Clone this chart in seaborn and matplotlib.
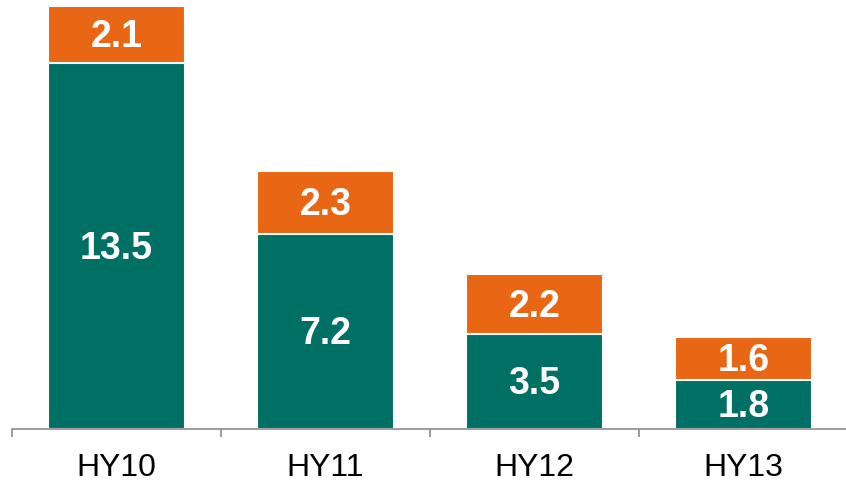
import matplotlib
matplotlib.use("Agg")
import matplotlib.pyplot as plt
import numpy as np
import pandas as pd
import seaborn as sns

# data
periods = ["HY10", "HY11", "HY12", "HY13"]
base_values = [13.5, 7.2, 3.5, 1.8]
top_values = [2.1, 2.3, 2.2, 1.6]

teal = "#006F64"
orange = "#E96614"

sns.set_theme(style="white")
plt.rcParams['font.family'] = ['Liberation Sans', 'DejaVu Sans']

df = pd.DataFrame({"period": periods, "base": base_values, "top": top_values})
df["total"] = df["base"] + df["top"]

fig = plt.figure(figsize=(8.46, 4.82), dpi=100)
ax = fig.add_axes([12 / 846, 53 / 482, 836 / 846, 429 / 482])

# total bar in orange, base bar drawn over it in teal
sns.barplot(data=df, x="period", y="total", color=orange, saturation=1,
            width=0.66, edgecolor="white", linewidth=1.5, ax=ax)
sns.barplot(data=df, x="period", y="base", color=teal, saturation=1,
            width=0.66, edgecolor="white", linewidth=1.5, ax=ax)

for i, row in df.iterrows():
    ax.annotate(f"{row['base']:.1f}", (i, row["base"] / 2), xytext=(0, -2),
                textcoords="offset points", ha="center", va="center",
                color="white", fontsize=27, fontweight="bold")
    ax.annotate(f"{row['top']:.1f}", (i, row["base"] + row["top"] / 2),
                xytext=(0, -2), textcoords="offset points", ha="center",
                va="center", color="white", fontsize=27, fontweight="bold")

ax.set_xlim(-0.5, len(periods) - 0.5)
ax.set_ylim(0, 15.6 * 429 / 423)
ax.set_xlabel("")
ax.set_ylabel("")
ax.set_yticks([])

# tick marks between categories, labels at category centres
ax.set_xticks(np.arange(-0.5, len(periods), 1.0))
ax.set_xticklabels([])
ax.set_xticks(np.arange(len(periods)), minor=True)
ax.set_xticklabels(periods, minor=True, fontsize=23, color="black")
ax.tick_params(axis="x", which="major", length=6, width=1.2, color="#8C8C8C",
               bottom=True, direction="out")
ax.tick_params(axis="x", which="minor", length=0, pad=17)

for side in ["top", "right", "left"]:
    ax.spines[side].set_visible(False)
ax.spines["bottom"].set_color("#8C8C8C")
ax.spines["bottom"].set_linewidth(1.2)

fig.savefig("out.png", dpi=100)
